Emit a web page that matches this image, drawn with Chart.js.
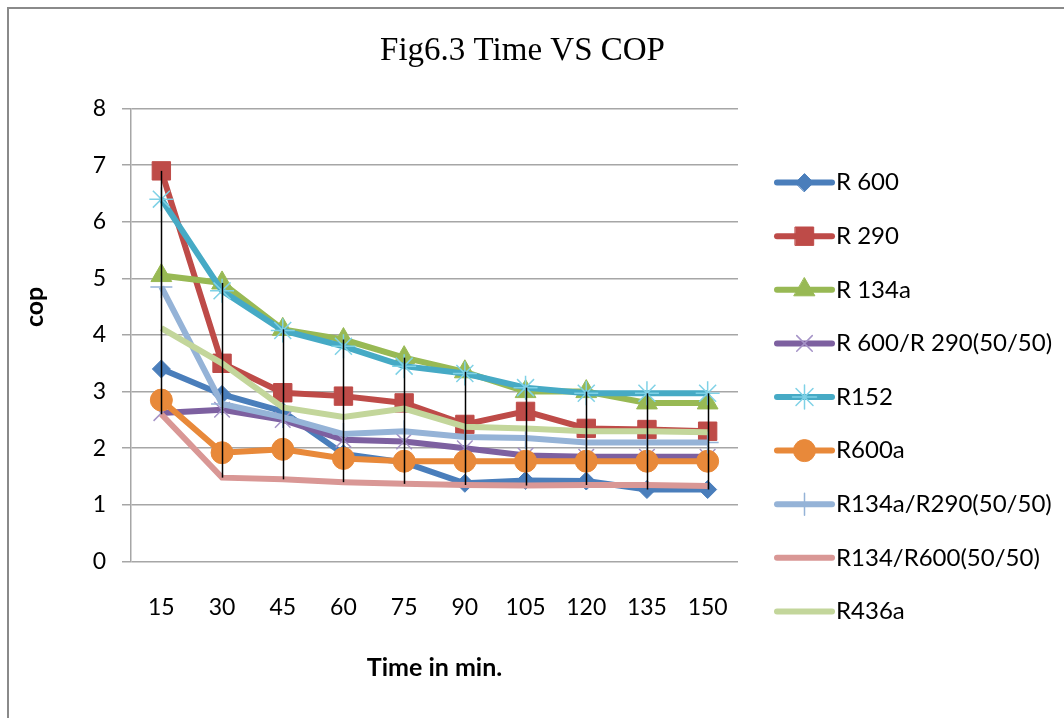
<!DOCTYPE html>
<html>
<head>
<meta charset="utf-8">
<script src="https://cdn.jsdelivr.net/npm/chart.js@4.4.0/dist/chart.umd.min.js"></script>
<style>
  html, body { margin: 0; padding: 0; background: #fff; }
  #frame {
    position: absolute; left: 7px; top: 7px; width: 1057px; height: 711px;
    border-left: 2px solid #8a8a8a; border-top: 2px solid #8a8a8a;
  }
  #wrap { position: absolute; left: 0; top: 0; width: 1055px; height: 709px; }
</style>
</head>
<body>
<div id="frame"><div id="wrap"><canvas id="myChart"></canvas></div></div>
<script>
// time axis (min)
const time = [15, 30, 45, 60, 75, 90, 105, 120, 135, 150];

// COP
const r600      = [3.4, 2.95, 2.65, 1.9, 1.75, 1.38, 1.43, 1.42, 1.27, 1.27];
const r290      = [6.9, 3.5, 2.98, 2.92, 2.8, 2.42, 2.65, 2.35, 2.33, 2.3];
const r134a     = [5.05, 4.92, 4.1, 3.92, 3.6, 3.35, 3.0, 3.0, 2.8, 2.8];
const r600r290  = [2.62, 2.68, 2.5, 2.15, 2.12, 2.0, 1.87, 1.85, 1.85, 1.85];
const r152      = [6.4, 4.78, 4.08, 3.8, 3.45, 3.32, 3.07, 2.97, 2.97, 2.97];
const r600a     = [2.85, 1.92, 1.98, 1.82, 1.77, 1.77, 1.77, 1.77, 1.77, 1.77];
const r134aR290 = [4.85, 2.78, 2.55, 2.25, 2.3, 2.2, 2.18, 2.1, 2.1, 2.1];
const r134R600  = [2.6, 1.48, 1.45, 1.4, 1.37, 1.35, 1.34, 1.35, 1.35, 1.33];
const r436a     = [4.12, 3.5, 2.72, 2.55, 2.7, 2.38, 2.35, 2.3, 2.3, 2.28];

const yTicks = [0, 1, 2, 3, 4, 5, 6, 7, 8];

Chart.defaults.font.family = "Lato";
Chart.defaults.color = "#000";

const series = (label, data, color, style, radius, markColor) => ({
  label: label,
  data: data,
  borderColor: color,
  backgroundColor: color,
  borderWidth: 6,
  tension: 0,
  pointStyle: style,
  pointRadius: radius,
  pointHoverRadius: radius,
  pointBackgroundColor: markColor || color,
  pointBorderColor: markColor || color,
  pointBorderWidth: markColor ? 1.5 : 1,
});

const datasets = [
  series("R 600", r600, "#4a7ebb", "rectRot", 9),
  series("R 290", r290, "#be4b48", "rect", 13),
  series("R 134a", r134a, "#98b954", "triangle", 12),
  series("R 600/R 290(50/50)", r600r290, "#7d60a0", "crossRot", 11, "#a593c7"),
  series("R152", r152, "#46aac5", "star", 12, "#7fd1e6"),
  series("R600a", r600a, "#e8893a", "circle", 11),
  series("R134a/R290(50/50)", r134aR290, "#95b3d7", "cross", 11, "#95b3d7"),
  series("R134/R600(50/50)", r134R600, "#d99795", false, 0),
  series("R436a", r436a, "#c3d69b", false, 0),
];
// later series on top, like the original
datasets.forEach((ds, i) => { ds.order = datasets.length - i; });

// black high-low lines at each time
const hiLoLines = {
  id: "hiLoLines",
  afterDatasetsDraw: (chart) => {
    const { ctx, scales } = chart;
    ctx.save();
    ctx.strokeStyle = "#000";
    ctx.lineWidth = 1.5;
    time.forEach((t, i) => {
      const vals = chart.data.datasets.map((ds) => ds.data[i]);
      const px = Math.round(scales.x.getPixelForValue(i)) + 0.5;
      ctx.beginPath();
      ctx.moveTo(px, scales.y.getPixelForValue(Math.max(...vals)));
      ctx.lineTo(px, scales.y.getPixelForValue(Math.min(...vals)));
      ctx.stroke();
    });
    ctx.restore();
  },
};

// legend on the right: line + marker + label
const sideLegend = {
  id: "sideLegend",
  afterDraw: (chart) => {
    const { ctx, chartArea } = chart;
    const x0 = chartArea.right + 39;
    chart.data.datasets.forEach((ds, i) => {
      const y = chartArea.top + 74 + i * 53.6;
      ctx.save();
      ctx.strokeStyle = ds.borderColor;
      ctx.lineWidth = 6;
      ctx.lineCap = "round";
      ctx.beginPath();
      ctx.moveTo(x0, y);
      ctx.lineTo(x0 + 55, y);
      ctx.stroke();
      if (ds.pointStyle) {
        ctx.fillStyle = ds.pointBackgroundColor;
        ctx.strokeStyle = ds.pointBorderColor;
        ctx.lineWidth = ds.pointBorderWidth;
        Chart.helpers.drawPoint(ctx, {
          pointStyle: ds.pointStyle,
          radius: ds.pointRadius,
          borderWidth: ds.pointBorderWidth,
          rotation: 0,
        }, x0 + 27.5, y);
      }
      ctx.fillStyle = "#000";
      ctx.font = "24px Lato";
      ctx.textBaseline = "middle";
      ctx.textAlign = "left";
      ctx.fillText(ds.label, x0 + 59, y);
      ctx.restore();
    });
  },
};

const ctx = document.getElementById("myChart").getContext("2d");
new Chart(ctx, {
  type: "line",
  data: {
    labels: time,
    datasets: datasets,
  },
  plugins: [hiLoLines, sideLegend],
  options: {
    responsive: true,
    maintainAspectRatio: false,
    animation: false,
    events: [],
    layout: { padding: { left: 0, right: 28, top: 0, bottom: 0 } },
    plugins: {
      legend: { display: false },
      tooltip: { enabled: false },
      title: {
        display: true,
        text: "Fig6.3 Time VS COP",
        color: "#000",
        font: { family: "Liberation Serif", size: 33, weight: "normal" },
        padding: { top: 23, bottom: 37 },
      },
    },
    scales: {
      x: {
        offset: true,
        grid: { display: false, drawTicks: false },
        border: { display: false },
        ticks: {
          font: { size: 23 },
          padding: 32,
          maxRotation: 0,
          autoSkip: false, // show every time label
        },
        title: {
          display: true,
          text: "Time in min.",
          font: { size: 25, weight: "bold" },
          padding: { top: 0, bottom: 35 },
        },
      },
      y: {
        min: 0,
        max: 8,
        afterFit: (scale) => { scale.width = 122; },
        afterBuildTicks: (scale) => { scale.ticks = yTicks.map((v) => ({ value: v })); },
        grid: { color: "#a6a6a6", lineWidth: 1.5, tickLength: 9 },
        border: { color: "#a6a6a6", width: 1.5 },
        ticks: { font: { size: 23 }, padding: 16 },
        title: {
          display: true,
          text: "\u2003\u2003\u2003cop",
          font: { size: 25, weight: "bold" },
          padding: { top: 11, bottom: 0 },
        },
      },
      // empty axis keeps room for the legend
      yRight: {
        position: "right",
        afterFit: (scale) => { scale.width = 298; },
        grid: { display: false, drawTicks: false },
        border: { display: false },
        ticks: { display: false },
      },
    },
  },
});
</script>
</body>
</html>
